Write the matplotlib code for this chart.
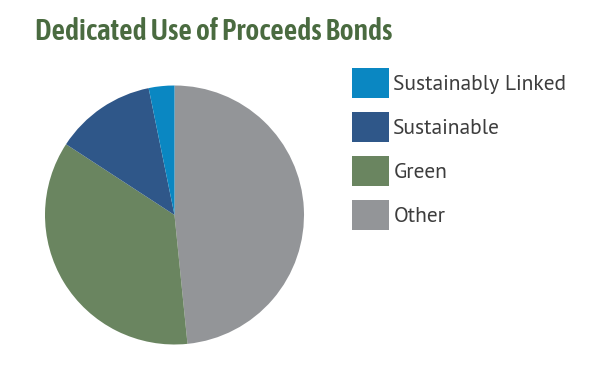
import matplotlib
matplotlib.use("Agg")
import matplotlib.pyplot as plt

categories = ["Other", "Green", "Sustainable", "Sustainably Linked"]
values = [48.4, 35.8, 12.6, 3.2]
colors = ["#939598", "#6a8560", "#2f5789", "#0a87c2"]
title = "Dedicated Use of Proceeds Bonds"

W, H = 600, 379
fig = plt.figure(figsize=(W / 100, H / 100), dpi=100)
fig.patch.set_facecolor("white")

cx, cy, r = 174.5, 215.0, 129.5
ax = fig.add_axes([(cx - r) / W, (H - cy - r) / H, 2 * r / W, 2 * r / H])
wedges, _ = ax.pie(values, colors=colors, startangle=90, counterclock=False,
                   radius=1.0, wedgeprops=dict(linewidth=0))
ax.set_xlim(-1, 1)
ax.set_ylim(-1, 1)
ax.set_aspect("equal")
ax.axis("off")

fig.text(35 / W, 1 - 39.5 / H, title, fontsize=21.3, fontweight=600,
         family=["Asap Condensed", "Barlow Semi Condensed", "DejaVu Sans"],
         color="#4a6b40", va="baseline", ha="left")

handles = wedges[::-1]
labels = categories[::-1]
fs = 15.5
hh = (30 / 1.389 / fs - 0.245) / 0.65
hl = 37 / 1.389 / fs
ls = (44 / 1.389 - 30 / 1.389) / fs
leg = fig.legend(handles, labels, loc="upper left",
                 bbox_to_anchor=(352 / W, 1 - 68 / H),
                 frameon=False, handlelength=hl,
                 handleheight=hh, handletextpad=0.2, labelspacing=ls,
                 borderpad=0, borderaxespad=0,
                 prop=dict(family=["PT Sans", "Fira Sans", "Open Sans"], size=fs))
for t in leg.get_texts():
    t.set_color("#3d3d3d")

fig.savefig("out.png", dpi=100, facecolor="white")
